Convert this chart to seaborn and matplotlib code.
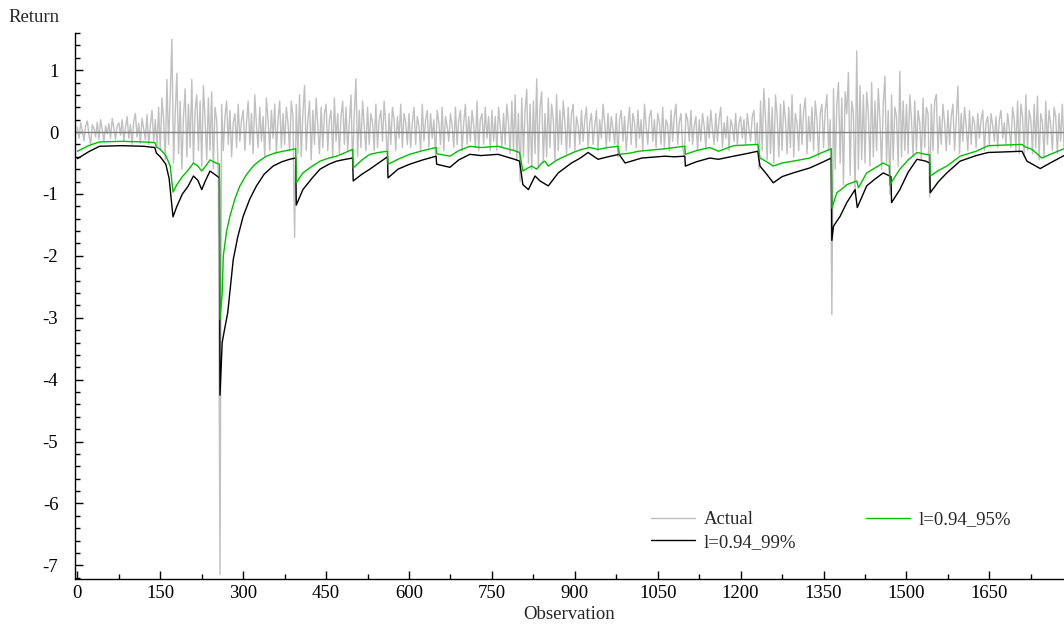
import matplotlib
matplotlib.use("Agg")
import matplotlib.pyplot as plt
from matplotlib.ticker import MultipleLocator
import seaborn as sns
import numpy as np

# actual returns, one value every 3 observations (0 .. 1785)
actual = [
    0.08, -0.1, 0.15, 0.02, -0.14, 0.1, 0.18, -0.05, -0.2, 0.12, 0.05, -0.08, 0.16, -0.12, 0.2, 0.04, -0.15, 0.1, -0.03, 0.14, -0.1, 0.22, 0.06, -0.12, 0.1,
    0.15, -0.05, 0.2, -0.15, 0.08, 0.25, -0.1, 0.12, -0.2, 0.18, 0.3, -0.08, 0.14, -0.18, 0.22, 0.05, -0.12, 0.28, -0.2, 0.1, 0.35, -0.15, 0.2, -0.25, 0.4,
    -0.3, 0.55, 0.2, -0.45, 0.85, -0.2, 0.6, 1.5, -0.5, 0.3, 0.95, -0.35, 0.5, -0.6, 0.25, 0.7, -0.4, 0.45, -0.25, 0.85, -0.5, 0.35, 0.6, -0.3, 0.5,
    -0.55, 0.75, 0.2, -0.45, 0.55, -0.3, 0.65, -0.6, 0.4, 0.2, -0.75, -7.15, 0.45, -0.3, 0.25, 0.5, -0.2, 0.35, -0.4, 0.15, 0.3, -0.25, 0.45, -0.15, 0.2,
    0.35, -0.3, 0.15, 0.5, -0.2, 0.3, -0.35, 0.6, 0.1, -0.25, 0.4, -0.15, 0.25, -0.4, 0.55, 0.2, -0.3, 0.35, -0.1, 0.45, -0.35, 0.2, 0.5, -0.25, 0.3,
    -0.2, 0.4, 0.15, -0.3, 0.5, 0.25, -1.7, 0.45, -0.35, 0.6, -0.4, 0.3, 0.75, -0.3, 0.2, 0.5, -0.45, 0.35, -0.2, 0.55, 0.1, -0.35, 0.4, -0.25, 0.3,
    0.45, -0.3, 0.2, 0.35, -0.4, 0.55, -0.15, 0.3, -0.35, 0.25, 0.5, -0.2, 0.4, -0.3, 0.15, 0.6, -0.55, 0.3, 0.86, -0.4, 0.35, -0.25, 0.5, 0.1, -0.3,
    0.4, -0.2, 0.3, 0.15, -0.3, 0.45, -0.25, 0.2, 0.35, -0.15, 0.5, 0.1, -0.5, 0.3, -0.2, 0.4, 0.2, -0.3, 0.25, -0.1, 0.45, -0.25, 0.3, 0.15, -0.2,
    0.3, -0.25, 0.15, 0.4, -0.2, 0.25, 0.1, -0.3, 0.45, -0.15, 0.2, 0.35, -0.25, 0.3, -0.1, 0.2, -0.4, 0.35, 0.15, -0.2, 0.4, -0.3, 0.25, 0.1, -0.15,
    0.3, 0.1, -0.25, 0.4, -0.2, 0.2, 0.35, -0.3, 0.15, 0.45, -0.2, 0.25, -0.15, 0.35, 0.1, -0.25, 0.5, -0.3, 0.2, 0.3, -0.2, 0.4, -0.1, 0.25, -0.3,
    0.35, -0.15, 0.25, -0.3, 0.4, 0.1, -0.25, 0.3, -0.2, 0.45, 0.15, -0.35, 0.5, -0.3, 0.6, -0.45, 0.3, -0.8, 0.55, -0.4, 0.35, 0.69, -0.5, 0.45, -0.6,
    0.5, -0.35, 0.86, -0.55, 0.4, 0.65, -0.5, 0.3, -0.4, 0.55, -0.25, 0.45, 0.2, -0.45, 0.6, -0.3, 0.35, -0.2, 0.5, 0.15, -0.35, 0.4, -0.25, 0.3, 0.45,
    -0.3, 0.25, 0.1, -0.2, 0.35, -0.15, 0.2, 0.4, -0.25, 0.15, 0.3, -0.2, 0.1, 0.35, -0.3, 0.2, -0.1, 0.45, 0.15, -0.25, 0.3, -0.15, 0.25, 0.05, -0.2,
    0.3, -0.4, 0.2, 0.35, -0.15, 0.25, -0.3, 0.1, 0.4, -0.2, 0.3, 0.15, -0.25, 0.35, -0.1, 0.2, -0.3, 0.45, 0.1, -0.2, 0.25, 0.35, -0.15, 0.2, -0.25,
    0.3, 0.15, -0.2, 0.4, -0.25, 0.2, 0.1, -0.3, 0.35, -0.15, 0.25, 0.45, -0.2, 0.15, 0.3, -0.25, -0.4, 0.3, 0.2, -0.15, 0.35, -0.2, 0.1, 0.25, -0.3,
    0.2, -0.15, 0.3, 0.1, -0.25, 0.25, -0.1, 0.35, 0.05, -0.2, 0.3, -0.15, 0.2, 0.4, -0.25, 0.15, -0.1, 0.25, -0.3, 0.2, 0.1, -0.15, 0.3, -0.2, 0.15,
    0.25, -0.1, 0.2, -0.2, 0.3, 0.05, -0.15, 0.25, 0.35, -0.2, 0.15, -0.6, 0.5, -0.3, 0.7, 0.2, -0.45, 0.55, -0.35, 0.4, -0.5, 0.6, 0.25, -0.4, 0.45,
    -0.3, 0.5, 0.2, -0.35, 0.4, -0.25, 0.6, -0.4, 0.3, 0.15, -0.3, 0.45, -0.2, 0.35, 0.55, -0.35, 0.25, -0.15, 0.4, -0.3, 0.5, 0.2, -0.4, 0.3, 0.45,
    -0.25, 0.35, 0.6, -0.3, 0.2, -2.95, 0.7, -0.6, 0.45, 0.8, -0.5, 0.55, -0.85, 0.65, 0.3, 0.96, -0.7, 0.5, 0.3, -1.0, 1.31, -0.6, 0.75, -0.45, 0.6,
    -0.5, 0.65, 0.3, -0.55, 0.8, -0.4, 0.5, -0.3, 0.7, 0.2, -0.6, 0.45, 0.9, -0.5, 0.35, -1.0, 0.6, -0.45, 0.4, 0.25, -0.55, 0.98, -0.4, 0.5, -0.3,
    0.45, -0.35, 0.6, 0.2, -0.4, 0.5, -0.3, 0.35, 0.15, -0.45, 0.55, -0.25, 0.4, 0.3, -1.05, 0.45, -0.3, 0.5, 0.61, -0.35, 0.25, -0.2, 0.45, 0.15, -0.3,
    0.35, -0.2, 0.25, 0.45, -0.3, 0.2, 0.74, -0.35, 0.3, -0.15, 0.4, 0.1, -0.3, 0.35, -0.2, 0.25, 0.15, -0.25, 0.3, -0.1, 0.2, 0.35, -0.3, 0.15, 0.25,
    -0.2, 0.3, 0.1, -0.15, 0.25, -0.25, 0.2, 0.35, -0.1, 0.15, -0.2, 0.3, 0.05, -0.25, 0.4, 0.2, -0.3, 0.5, -0.35, 0.45, 0.25, -0.4, 0.6, -0.3, 0.35,
    0.2, -0.35, 0.45, -0.25, 0.58, -0.45, 0.3, 0.15, -0.4, 0.5, -0.2, 0.35, 0.1, -0.3, 0.4, 0.25, -0.35, 0.3, -0.15, 0.45, -0.25,
]
actual_obs = np.arange(0, 3 * len(actual), 3)

# VaR 95% (lambda = 0.94), read at breakpoints
var95_obs = [0, 20, 40, 80, 120, 140, 143, 150, 160, 168, 173, 180, 190, 200, 210, 218, 225, 232, 240, 248,
             257, 258, 262, 264, 270, 276, 285, 294, 305, 318, 330, 342, 357, 372, 390, 395, 396, 408, 425, 439,
             455, 469, 485, 498, 499, 515, 529, 545, 561, 562, 580, 601, 625, 649, 650, 674, 690, 710, 730, 761,
             790, 800, 806, 815, 822, 831, 840, 846, 852, 866, 882, 897, 912, 927, 942, 960, 978, 981, 1000, 1015,
             1040, 1063, 1080, 1099, 1100, 1120, 1144, 1160, 1187, 1210, 1231, 1235, 1247, 1259, 1275, 1295, 1325, 1345, 1364, 1365,
             1374, 1383, 1392, 1410, 1413, 1428, 1443, 1458, 1469, 1470, 1488, 1503, 1519, 1535, 1542, 1543, 1558, 1573, 1597, 1626,
             1648, 1680, 1709, 1715, 1727, 1745, 1760, 1785]
var95 = [-0.31, -0.22, -0.16, -0.15, -0.16, -0.17, -0.24, -0.28, -0.38, -0.55, -0.97, -0.85, -0.72, -0.62, -0.5, -0.55, -0.63, -0.55, -0.45, -0.49,
         -0.52, -3.03, -2.6, -2.0, -1.6, -1.36, -1.08, -0.87, -0.7, -0.55, -0.46, -0.39, -0.34, -0.31, -0.28, -0.27, -0.82, -0.66, -0.55, -0.47,
         -0.42, -0.39, -0.33, -0.28, -0.58, -0.45, -0.36, -0.33, -0.31, -0.52, -0.44, -0.36, -0.3, -0.25, -0.35, -0.39, -0.3, -0.23, -0.25, -0.23,
         -0.3, -0.33, -0.63, -0.58, -0.55, -0.6, -0.5, -0.47, -0.55, -0.46, -0.39, -0.33, -0.28, -0.25, -0.28, -0.25, -0.23, -0.36, -0.34, -0.31,
         -0.29, -0.27, -0.25, -0.23, -0.36, -0.3, -0.25, -0.31, -0.22, -0.21, -0.2, -0.42, -0.48, -0.55, -0.5, -0.47, -0.42, -0.34, -0.27, -1.23,
         -0.98, -0.92, -0.85, -0.79, -0.9, -0.66, -0.58, -0.5, -0.55, -0.85, -0.6, -0.45, -0.33, -0.36, -0.37, -0.71, -0.62, -0.55, -0.39, -0.31,
         -0.22, -0.21, -0.2, -0.24, -0.28, -0.42, -0.36, -0.27]

# VaR 99% (lambda = 0.94), read at breakpoints
var99_obs = [0, 20, 40, 80, 120, 140, 143, 150, 160, 166, 173, 180, 190, 200, 210, 218, 225, 232, 240, 248,
             257, 258, 262, 266, 272, 282, 290, 300, 312, 324, 338, 354, 370, 384, 395, 396, 408, 425, 439, 455,
             469, 485, 498, 499, 515, 529, 545, 561, 562, 580, 601, 625, 649, 650, 674, 690, 710, 730, 761, 791,
             800, 806, 816, 828, 837, 852, 870, 894, 910, 924, 942, 960, 980, 991, 1021, 1063, 1080, 1099, 1100, 1120,
             1144, 1160, 1187, 1210, 1231, 1235, 1247, 1259, 1275, 1295, 1325, 1345, 1364, 1365, 1368, 1380, 1392, 1407, 1411, 1428,
             1443, 1458, 1472, 1473, 1488, 1503, 1519, 1535, 1542, 1543, 1558, 1573, 1597, 1626, 1648, 1680, 1709, 1718, 1742, 1760,
             1785]
var99 = [-0.43, -0.32, -0.23, -0.22, -0.23, -0.25, -0.34, -0.4, -0.52, -0.75, -1.37, -1.2, -1.0, -0.88, -0.71, -0.78, -0.93, -0.78, -0.63, -0.68,
         -0.74, -4.25, -3.4, -3.2, -2.92, -2.06, -1.7, -1.36, -1.08, -0.87, -0.68, -0.55, -0.48, -0.44, -0.42, -1.18, -0.93, -0.74, -0.6, -0.52,
         -0.47, -0.44, -0.42, -0.79, -0.68, -0.6, -0.5, -0.4, -0.74, -0.6, -0.52, -0.45, -0.39, -0.52, -0.57, -0.45, -0.36, -0.38, -0.36, -0.44,
         -0.47, -0.85, -0.93, -0.71, -0.79, -0.87, -0.66, -0.5, -0.42, -0.33, -0.44, -0.4, -0.36, -0.5, -0.42, -0.39, -0.4, -0.39, -0.55, -0.48,
         -0.42, -0.44, -0.39, -0.35, -0.31, -0.55, -0.68, -0.82, -0.72, -0.66, -0.58, -0.5, -0.42, -1.75, -1.52, -1.36, -1.14, -0.93, -1.22, -0.87,
         -0.76, -0.66, -0.72, -1.14, -0.93, -0.65, -0.44, -0.47, -0.5, -0.98, -0.8, -0.66, -0.47, -0.38, -0.33, -0.32, -0.31, -0.47, -0.59, -0.5,
         -0.38]

sns.set_theme(style="ticks")
plt.rcParams["font.family"] = ["Liberation Serif", "DejaVu Serif"]
plt.rcParams["font.size"] = 13.5
plt.rcParams["axes.unicode_minus"] = False

fig = plt.figure(figsize=(10.64, 6.24), dpi=100)
ax = fig.add_axes([75 / 1064, 1 - 579 / 624, 1 - 75 / 1064, (579 - 33) / 624])

sns.lineplot(x=actual_obs, y=actual, ax=ax, color="#c0c0c0", lw=1.0, label="Actual")
ax.axhline(0, color="#808080", lw=1.0)
sns.lineplot(x=var99_obs, y=var99, ax=ax, color="black", lw=1.0, label="l=0.94_99%")
sns.lineplot(x=var95_obs, y=var95, ax=ax, color="#00c000", lw=1.0, label="l=0.94_95%")

ax.set_xlim(-4.3, 1785)
ax.set_ylim(-7.22, 1.60)
ax.xaxis.set_major_locator(MultipleLocator(150))
ax.xaxis.set_minor_locator(MultipleLocator(75))
ax.yaxis.set_major_locator(MultipleLocator(1))
ax.yaxis.set_minor_locator(MultipleLocator(0.2))
ax.tick_params(which="major", direction="in", length=6, width=1, colors="black", labelsize=13.5)
ax.tick_params(which="minor", direction="in", length=3.5, width=1, colors="black")
ax.tick_params(axis="y", which="major", pad=12)
ax.tick_params(axis="x", which="major", pad=4)
for s in ["top", "right"]:
    ax.spines[s].set_visible(False)
for s in ["left", "bottom"]:
    ax.spines[s].set_color("black")
    ax.spines[s].set_linewidth(1.0)

ax.set_xlabel("Observation", fontsize=13.5, labelpad=3)
ax.set_ylabel("")
fig.text(8 / 1064, 1 - 18 / 624, "Return", fontsize=13.5, ha="left", va="center")

handles, labels = ax.get_legend_handles_labels()
ax.legend(handles, labels, ncol=2, frameon=False,
          loc="center", bbox_to_anchor=(831 / 1064, 1 - 531 / 624), bbox_transform=fig.transFigure,
          handlelength=2.35, handletextpad=0.48, columnspacing=3.7, labelspacing=0.28, fontsize=13.5)

fig.savefig("out.png", dpi=100)
